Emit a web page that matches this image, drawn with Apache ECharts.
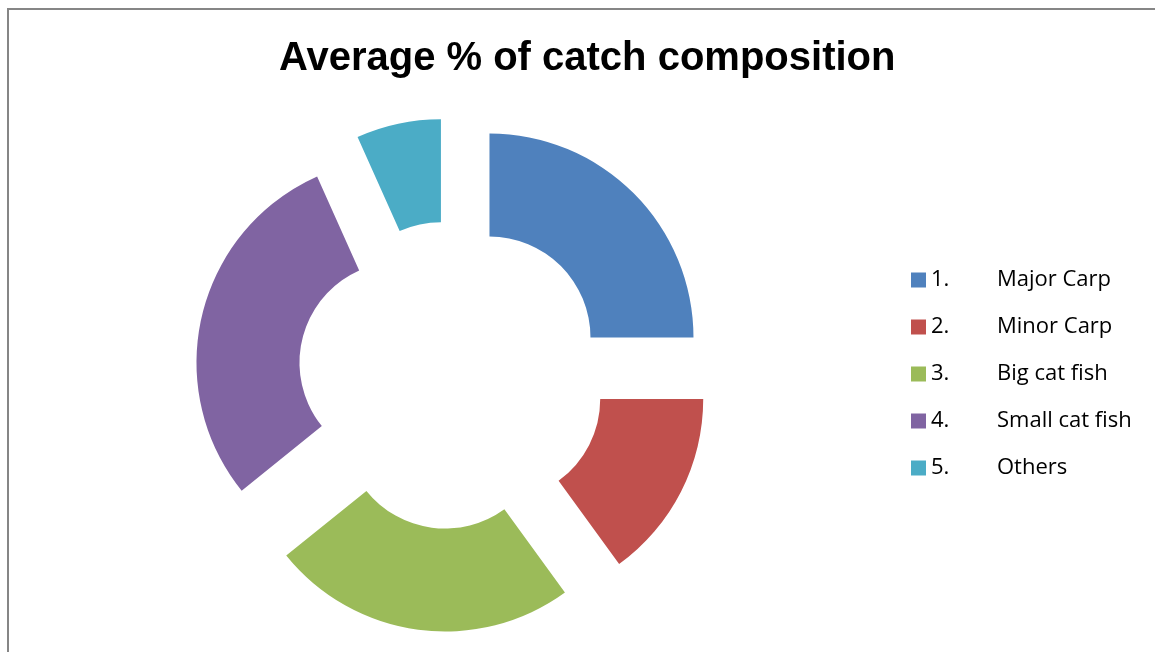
<!DOCTYPE html>
<html>
<head>
<meta charset="utf-8">
<script src="https://cdn.jsdelivr.net/npm/echarts@6/dist/echarts.min.js"></script>
<style>html,body{margin:0;padding:0;background:#fff;}#c{width:1155px;height:652px;}</style>
</head>
<body>
<div id="c"></div>
<script>
const categories = ['Major Carp', 'Minor Carp', 'Big cat fish', 'Small cat fish', 'Others'];
const numbers = ['1.', '2.', '3.', '4.', '5.'];
const values = [25, 15, 24.2, 29.1, 6.7];
const colors = ['#4F81BD', '#C0504D', '#9BBB59', '#8064A2', '#4BACC6'];

const chart = echarts.init(document.getElementById('c'), null, {renderer: 'canvas'});
chart.setOption({
  animation: false,
  title: {
    text: 'Average % of catch composition',
    left: 274,
    top: 34,
    textStyle: {fontFamily: 'Liberation Sans', fontWeight: 'bold', fontSize: 40, color: '#000'}
  },
  legend: {
    orient: 'vertical',
    left: 911,
    top: 268,
    padding: 0,
    itemWidth: 15,
    itemHeight: 15,
    itemGap: 23,
    icon: 'rect',
    selectedMode: false,
    data: categories,
    formatter: function (name) {
      const i = categories.indexOf(name);
      return '{n|' + numbers[i] + '}{l|' + name + '}';
    },
    textStyle: {
      fontFamily: 'Open Sans', fontSize: 22, color: '#000', lineHeight: 24,
      rich: {
        n: {width: 66, fontFamily: 'Open Sans', fontSize: 22, color: '#000'},
        l: {fontFamily: 'Open Sans', fontSize: 22, color: '#000'}
      }
    }
  },
  graphic: [{
    type: 'rect', shape: {x: 8, y: 9, width: 1200, height: 700},
    style: {fill: 'none', stroke: '#868686', lineWidth: 2}, silent: true
  }],
  series: [{
    type: 'pie',
    center: [452, 375],
    radius: [101, 204],
    startAngle: 90,
    clockwise: true,
    selectedMode: 'multiple',
    selectedOffset: 53,
    silent: true,
    label: {show: false},
    labelLine: {show: false},
    emphasis: {disabled: true},
    data: categories.map((c, i) => ({
      name: c, value: values[i], selected: true,
      itemStyle: {color: colors[i]},
      select: {itemStyle: {color: colors[i], borderWidth: 0}}
    }))
  }]
});
</script>
</body>
</html>
